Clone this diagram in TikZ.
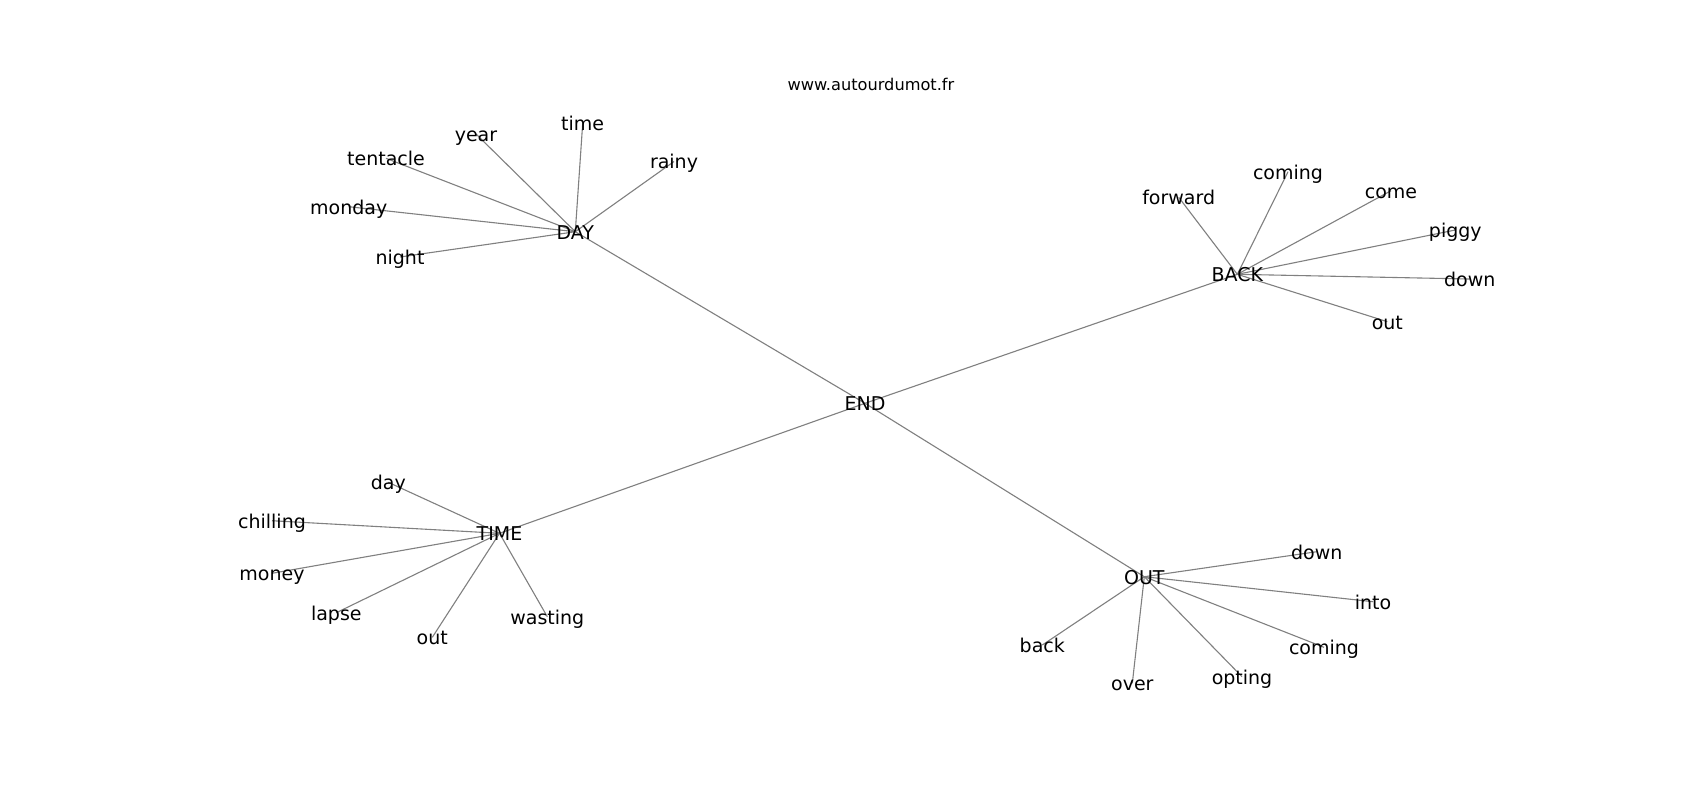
\documentclass[tikz,border=0pt]{standalone}
\usepackage{fontspec}
\setmainfont{DejaVu Sans}
\usetikzlibrary{backgrounds}
\tikzset{
  word/.style={inner sep=0pt, text height=0.73em, text depth=0pt, font=\fontsize{9.5pt}{11pt}\selectfont, text=black},
  link/.style={draw=black!50, line width=0.55pt},
  titletext/.style={inner sep=0pt, text height=0.73em, text depth=0pt, font=\fontsize{8.1pt}{10pt}\selectfont}
}
\begin{document}
\begin{tikzpicture}[x=0.5pt,y=-0.5pt]
\path[use as bounding box] (0,0) rectangle (1700,800);
\node[titletext] (title) at (871,82.7) {www.autourdumot.fr};
% hubs
\node[word] (end) at (865,403.3) {END};
\node[word] (day) at (575.3,231.7) {DAY};
\node[word] (back) at (1237.3,274.3) {BACK};
\node[word] (time) at (499.5,533.3) {TIME};
\node[word] (out) at (1144.3,576.7) {OUT};
% DAY leaves
\node[word] (d1) at (582.7,123.3) {time};
\node[word] (d2) at (476,134) {year};
\node[word] (d3) at (386,158.3) {tentacle};
\node[word] (d4) at (348.7,206.7) {monday};
\node[word] (d5) at (400,257) {night};
\node[word] (d6) at (674,161.5) {rainy};
% BACK leaves
\node[word] (b1) at (1178.7,197.3) {forward};
\node[word] (b2) at (1288,171.7) {coming};
\node[word] (b3) at (1391,190.7) {come};
\node[word] (b4) at (1455.3,230) {piggy};
\node[word] (b5) at (1469.7,279) {down};
\node[word] (b6) at (1387.3,321.7) {out};
% TIME leaves
\node[word] (t1) at (388.3,482.3) {day};
\node[word] (t2) at (272,520.7) {chilling};
\node[word] (t3) at (272,573.3) {money};
\node[word] (t4) at (336.3,612.7) {lapse};
\node[word] (t5) at (432.3,637.3) {out};
\node[word] (t6) at (547.3,616.7) {wasting};
% OUT leaves
\node[word] (o1) at (1316.7,551.7) {down};
\node[word] (o2) at (1373,601.7) {into};
\node[word] (o3) at (1324,647.3) {coming};
\node[word] (o4) at (1042.3,645) {back};
\node[word] (o5) at (1132.3,683.3) {over};
\node[word] (o6) at (1242,676.7) {opting};
\begin{pgfonlayer}{background}
\fill[white] (0,0) rectangle (1700,800);
\foreach \h in {day,back,time,out}
  \draw[link] (end.center) -- (\h.center);
\foreach \l in {d1,d2,d3,d4,d5,d6}
  \draw[link] (day.center) -- (\l.center);
\foreach \l in {b1,b2,b3,b4,b5,b6}
  \draw[link] (back.center) -- (\l.center);
\foreach \l in {t1,t2,t3,t4,t5,t6}
  \draw[link] (time.center) -- (\l.center);
\foreach \l in {o1,o2,o3,o4,o5,o6}
  \draw[link] (out.center) -- (\l.center);
\end{pgfonlayer}
\end{tikzpicture}
\end{document}
